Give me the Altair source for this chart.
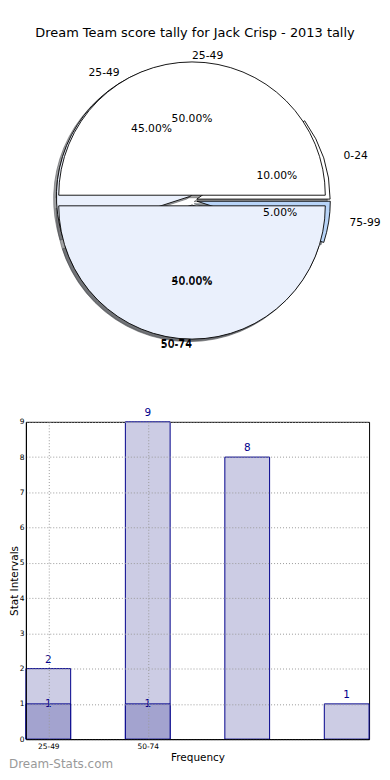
import altair as alt
import pandas as pd

# ---------------- data ----------------
TITLE = "Dream Team score tally for Jack Crisp - 2013 tally"
season_ranges = ["0-24", "25-49", "50-74", "75-99"]
season_counts = [2, 9, 8, 1]
subset_ranges = ["25-49", "50-74"]
subset_counts = [1, 1]
x_tick_labels = ["25-49", "50-74"]
Y_TITLE = "Stat Intervals"
X_TITLE = "Frequency"
WATERMARK = "Dream-Stats.com"

# ---------------- styles ----------------
season_colors = ["#ffffff", "#eaf0fc", "#d4e3fa", "#b8d4f8"]
subset_colors = ["#ffffff", "#eaf0fc"]
BAR_LIGHT = "#ccccE4"
BAR_DARK = "#a3a3cf"
BAR_EDGE = "#00008b"
GRID = "#9a9a9a"
FONT = "DejaVu Sans"

LEFT = 17
PIE_W, PIE_H = 345, 403
SPACING = 10
BAR_W, BAR_H = 345, 319
CX, CY = 167, 190.5
RX, RY = 141, 127
R = 134
PIE_FONT = 10.8
SEASON_EXPLODE = 0.036
SUBSET_EXPLODE = 0.042
SHADOW_DX, SHADOW_DY = -0.02 * RX, 0.02 * RY
BAR_HALF = 0.225


def shade(hex_color):
    h = hex_color.lstrip("#")
    r, g, b = (int(h[i:i + 2], 16) for i in (0, 2, 4))
    return "#%02x%02x%02x" % (round(r * 0.3), round(g * 0.3), round(b * 0.3))


def make_df(ranges, counts, colors):
    return pd.DataFrame({
        "idx": list(range(len(ranges))),
        "range": ranges,
        "count": counts,
        "fill": colors,
        "shade": [shade(c) for c in colors],
    })


season_df = make_df(season_ranges, season_counts, season_colors)
subset_df = make_df(subset_ranges, subset_counts, subset_colors)


def PX(field):
    return alt.X(field, type="quantitative", scale=None, axis=None)


def PY(field):
    return alt.Y(field, type="quantitative", scale=None, axis=None)


def pie_layers(df, explode):
    ex, ey = explode * RX, explode * RY
    base = (
        alt.Chart(df)
        .transform_joinaggregate(total="sum(count)")
        .transform_window(cum="sum(count)", sort=[alt.SortField("idx")], frame=[None, 0])
        .transform_calculate(f0="(datum.cum - datum.count) / datum.total")
        .transform_calculate(f1="datum.cum / datum.total")
        .transform_calculate(fm="(datum.cum - datum.count / 2) / datum.total")
        .transform_calculate(pct="100 * datum.count / datum.total")
        .transform_calculate(m="2 * PI * datum.fm")
        .transform_calculate(t1="PI / 2 - 2 * PI * datum.f0")
        .transform_calculate(t2="PI / 2 - 2 * PI * datum.f1")
        .transform_calculate(cx=f"{CX} + {ex} * cos(datum.m)")
        .transform_calculate(cy=f"{CY} - {ey} * sin(datum.m)")
        .transform_calculate(sx=f"datum.cx + {SHADOW_DX}")
        .transform_calculate(sy=f"datum.cy + {SHADOW_DY}")
        .transform_calculate(lx=f"datum.cx + {1.1 * RX} * cos(datum.m)")
        .transform_calculate(ly=f"datum.cy - {1.1 * RY} * sin(datum.m)")
        .transform_calculate(px=f"datum.cx + {0.6 * RX} * cos(datum.m)")
        .transform_calculate(py=f"datum.cy - {0.6 * RY} * sin(datum.m)")
        .transform_calculate(ptxt="format(datum.pct, '.2f') + '%'")
    )
    theta = alt.Theta("t1:Q", scale=None, stack=None)
    shadow = base.mark_arc(radius=R, fillOpacity=0.5, strokeOpacity=0.5, strokeWidth=1).encode(
        x=PX("sx"), y=PY("sy"), theta=theta, theta2="t2:Q",
        fill=alt.Fill("shade:N", scale=None), stroke=alt.Stroke("shade:N", scale=None),
    )
    wedge = base.mark_arc(radius=R, stroke="black", strokeWidth=0.9).encode(
        x=PX("cx"), y=PY("cy"), theta=theta, theta2="t2:Q",
        fill=alt.Fill("fill:N", scale=None),
    )
    lab_l = base.transform_filter("cos(datum.m) > 0").mark_text(
        align="left", baseline="middle", fontSize=PIE_FONT, color="black"
    ).encode(x=PX("lx"), y=PY("ly"), text="range:N")
    lab_r = base.transform_filter("cos(datum.m) <= 0").mark_text(
        align="right", baseline="middle", fontSize=PIE_FONT, color="black"
    ).encode(x=PX("lx"), y=PY("ly"), text="range:N")
    pct = base.mark_text(align="center", baseline="middle", fontSize=PIE_FONT, color="black").encode(
        x=PX("px"), y=PY("py"), text="ptxt:N"
    )
    return shadow, wedge, [lab_l, lab_r, pct]


sh2, w2, t2 = pie_layers(season_df, SEASON_EXPLODE)
sh1, w1, t1 = pie_layers(subset_df, SUBSET_EXPLODE)

title_mark = alt.Chart(pd.DataFrame({"t": [TITLE]})).mark_text(
    fontSize=13, align="center", baseline="middle", color="black"
).encode(text="t:N", x=alt.value(187 - LEFT), y=alt.value(22))

pie = alt.layer(sh2, sh1, w2, w1, *t2, *t1, title_mark).properties(
    width=PIE_W, height=PIE_H, view=alt.ViewBackground(stroke="transparent")
)

# ---------------- bar chart ----------------
xscale = alt.Scale(domain=[-BAR_HALF, len(season_ranges) - 1 + BAR_HALF], nice=False, zero=False)
yscale = alt.Scale(domain=[0, max(season_counts)], nice=False)
label_expr = "[" + ",".join("'%s'" % s for s in x_tick_labels) + "][datum.value]"
xaxis = alt.Axis(
    values=list(range(len(x_tick_labels))), labelExpr=label_expr, title=X_TITLE,
    grid=True, gridDash=[1, 2], gridColor=GRID, gridWidth=1, ticks=False,
    domainColor="black", labelFontSize=7.5, labelPadding=3, labelColor="black",
    titleFontSize=10.5, titlePadding=3, titleFontWeight="normal", titleColor="black", zindex=1,
)
yaxis = alt.Axis(
    values=list(range(max(season_counts) + 1)), title=Y_TITLE,
    grid=True, gridDash=[1, 2], gridColor=GRID, gridWidth=1, ticks=False,
    domainColor="black", labelFontSize=7.5, labelPadding=2, labelColor="black",
    titleFontSize=10.5, titlePadding=0, titleFontWeight="normal", titleColor="black", zindex=1,
)


def bars(df, color):
    return alt.Chart(df).transform_calculate(
        x0=f"datum.idx - {BAR_HALF}", x1=f"datum.idx + {BAR_HALF}"
    ).mark_rect(fill=color, stroke=BAR_EDGE, strokeWidth=1).encode(
        x=alt.X("x0:Q", scale=xscale, axis=xaxis), x2="x1:Q",
        y=alt.Y("count:Q", scale=yscale, axis=yaxis), y2=alt.datum(0),
    )


def bar_text(df, dy):
    return alt.Chart(df).mark_text(
        dy=dy, fontSize=10.5, color=BAR_EDGE, baseline="middle", align="center"
    ).encode(
        x=alt.X("idx:Q", scale=xscale, axis=xaxis),
        y=alt.Y("count:Q", scale=yscale, axis=yaxis),
        text="count:Q",
    )


wm = alt.Chart(pd.DataFrame({"t": [WATERMARK]})).mark_text(
    align="left", baseline="middle", fontSize=12, color="#999999"
).encode(text="t:N", x=alt.value(-LEFT), y=alt.value(BAR_H + 25))

bar_chart = alt.layer(
    bars(season_df, BAR_LIGHT), bars(subset_df, BAR_DARK),
    bar_text(season_df, -9), bar_text(subset_df, 0), wm,
).properties(width=BAR_W, height=BAR_H, view=alt.ViewBackground(stroke="black", strokeWidth=1))

chart = alt.vconcat(pie, bar_chart, spacing=SPACING, bounds="flush").properties(
    padding=0
).configure(font=FONT)

chart.save("out.html", embed_options={"renderer": "svg", "actions": False})
